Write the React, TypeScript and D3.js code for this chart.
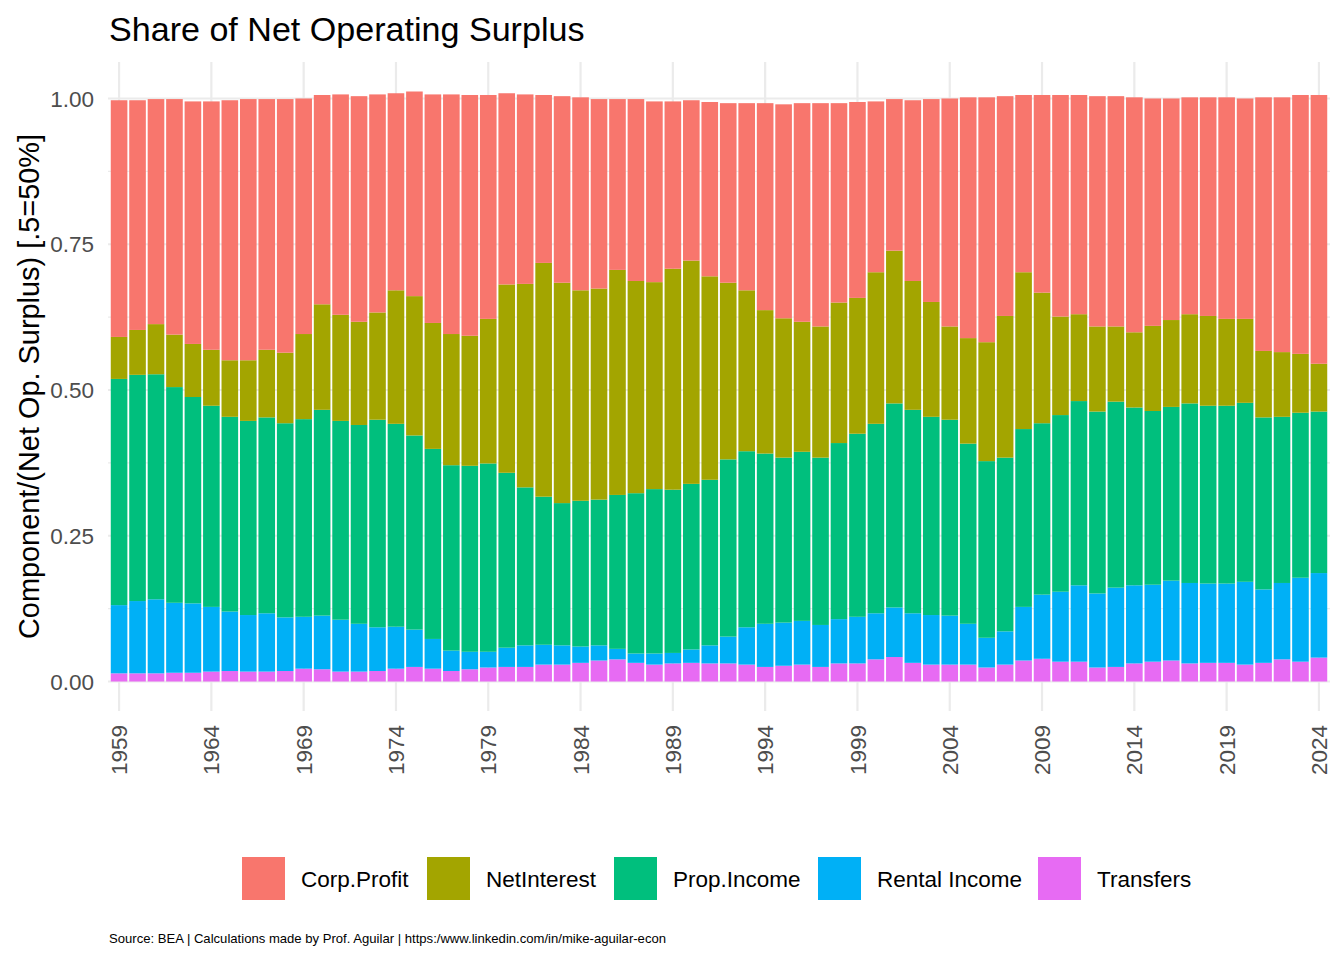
import React, { useEffect, useRef } from 'react';
import * as d3 from 'd3';

const years: number[] = d3.range(1959, 2025);

const corpProfit = [
  0.406, 0.394, 0.386, 0.404, 0.416, 0.426, 0.446, 0.448, 0.430, 0.435,
  0.404, 0.359, 0.378, 0.387, 0.374, 0.338, 0.351, 0.392, 0.411, 0.413,
  0.384, 0.328, 0.325, 0.288, 0.320, 0.331, 0.325, 0.293, 0.312, 0.310,
  0.287, 0.275, 0.299, 0.308, 0.321, 0.355, 0.367, 0.375, 0.383, 0.342,
  0.336, 0.293, 0.260, 0.310, 0.348, 0.391, 0.413, 0.420, 0.377, 0.304,
  0.339, 0.380, 0.376, 0.395, 0.395, 0.403, 0.390, 0.380, 0.372, 0.375,
  0.380, 0.378, 0.435, 0.437, 0.444, 0.461,
];

const netInterest = [
  0.072, 0.077, 0.086, 0.090, 0.091, 0.096, 0.097, 0.104, 0.116, 0.121,
  0.146, 0.181, 0.182, 0.177, 0.184, 0.229, 0.239, 0.216, 0.225, 0.223,
  0.248, 0.323, 0.349, 0.401, 0.378, 0.361, 0.362, 0.386, 0.364, 0.355,
  0.379, 0.383, 0.349, 0.303, 0.276, 0.246, 0.239, 0.223, 0.225, 0.241,
  0.233, 0.260, 0.262, 0.221, 0.197, 0.160, 0.181, 0.204, 0.243, 0.269,
  0.224, 0.169, 0.149, 0.146, 0.129, 0.129, 0.146, 0.149, 0.153, 0.154,
  0.149, 0.144, 0.114, 0.111, 0.101, 0.082,
];

const propIncome = [
  0.388, 0.388, 0.386, 0.370, 0.354, 0.345, 0.334, 0.333, 0.336, 0.333,
  0.339, 0.353, 0.341, 0.341, 0.356, 0.348, 0.333, 0.326, 0.318, 0.319,
  0.323, 0.300, 0.271, 0.254, 0.244, 0.250, 0.250, 0.264, 0.275, 0.282,
  0.280, 0.284, 0.284, 0.304, 0.302, 0.292, 0.283, 0.290, 0.287, 0.302,
  0.314, 0.325, 0.350, 0.349, 0.340, 0.336, 0.309, 0.303, 0.298, 0.305,
  0.294, 0.303, 0.316, 0.312, 0.319, 0.305, 0.298, 0.298, 0.308, 0.305,
  0.305, 0.307, 0.295, 0.285, 0.283, 0.277,
];

const rentalIncome = [
  0.117, 0.124, 0.127, 0.120, 0.119, 0.111, 0.102, 0.097, 0.100, 0.092,
  0.089, 0.092, 0.089, 0.082, 0.075, 0.072, 0.064, 0.051, 0.035, 0.030,
  0.027, 0.033, 0.037, 0.034, 0.033, 0.028, 0.026, 0.018, 0.016, 0.019,
  0.018, 0.023, 0.031, 0.046, 0.064, 0.074, 0.074, 0.075, 0.072, 0.076,
  0.080, 0.079, 0.085, 0.085, 0.085, 0.084, 0.070, 0.051, 0.057, 0.092,
  0.110, 0.120, 0.131, 0.127, 0.136, 0.134, 0.132, 0.137, 0.138, 0.136,
  0.136, 0.142, 0.126, 0.131, 0.144, 0.145,
];

const transfers = [
  0.014, 0.014, 0.014, 0.015, 0.015, 0.017, 0.018, 0.017, 0.017, 0.018,
  0.022, 0.021, 0.017, 0.017, 0.018, 0.022, 0.025, 0.022, 0.018, 0.021,
  0.024, 0.025, 0.025, 0.029, 0.029, 0.032, 0.036, 0.038, 0.032, 0.029,
  0.031, 0.032, 0.031, 0.031, 0.029, 0.025, 0.027, 0.029, 0.025, 0.031,
  0.031, 0.038, 0.042, 0.032, 0.029, 0.029, 0.029, 0.024, 0.029, 0.036,
  0.039, 0.034, 0.034, 0.024, 0.025, 0.031, 0.034, 0.036, 0.031, 0.032,
  0.032, 0.029, 0.032, 0.038, 0.034, 0.041,
];

// legend order (top of stack first)
const seriesNames = ['Corp.Profit', 'NetInterest', 'Prop.Income', 'Rental Income', 'Transfers'];
const seriesColors = ['#F8766D', '#A3A500', '#00BF7D', '#00B0F6', '#E76BF3'];
const yTicks = [0, 0.25, 0.5, 0.75, 1];
const yMinorTicks = [0.125, 0.375, 0.625, 0.875];
const xTicks = [1959, 1964, 1969, 1974, 1979, 1984, 1989, 1994, 1999, 2004, 2009, 2014, 2019, 2024];

const titleText = 'Share of Net Operating Surplus';
const yAxisTitle = 'Component/(Net Op. Surplus) [.5=50%]';
const captionText = 'Source: BEA | Calculations made by Prof. Aguilar | https:/www.linkedin.com/in/mike-aguilar-econ';

const FONT = '"Liberation Sans", Arial, sans-serif';

type Row = { year: number } & Record<string, number>;

const App: React.FC = () => {
  const svgRef = useRef<SVGSVGElement | null>(null);
  const width = 1344;
  const height = 960;

  useEffect(() => {
    if (!svgRef.current) {
      return;
    }
    const svg = d3.select(svgRef.current);
    svg.selectAll('*').remove();

    const seriesValues = [corpProfit, netInterest, propIncome, rentalIncome, transfers];
    const rows: Row[] = years.map((year, i) => {
      const row = { year } as Row;
      seriesNames.forEach((name, s) => {
        row[name] = seriesValues[s][i];
      });
      return row;
    });

    // stack bottom-up: Transfers first, Corp.Profit on top
    const stackKeys = [...seriesNames].reverse();
    const stacked = d3.stack<Row>().keys(stackKeys)(rows);
    const colorOf = d3.scaleOrdinal<string, string>().domain(seriesNames).range(seriesColors);

    const panel = { left: 108, right: 1330, top: 62, bottom: 711 };

    const xScale = d3
      .scaleLinear()
      .domain([1959 - 0.6, 2024 + 0.6])
      .range([panel.left, panel.right]);
    const step = xScale(1960) - xScale(1959);
    const barWidth = step * 0.9;

    const maxTotal = d3.max(stacked[stacked.length - 1], d => d[1]) ?? 1;
    const pad = maxTotal * 0.05;
    const yScale = d3
      .scaleLinear()
      .domain([-pad, maxTotal + pad])
      .range([panel.bottom, panel.top]);

    const grid = svg.append('g');
    grid
      .selectAll('.minor')
      .data(yMinorTicks)
      .join('line')
      .attr('x1', panel.left)
      .attr('x2', panel.right)
      .attr('y1', d => yScale(d))
      .attr('y2', d => yScale(d))
      .attr('stroke', '#EBEBEB')
      .attr('stroke-width', 1.1);
    grid
      .selectAll('.major-y')
      .data(yTicks)
      .join('line')
      .attr('x1', panel.left)
      .attr('x2', panel.right)
      .attr('y1', d => yScale(d))
      .attr('y2', d => yScale(d))
      .attr('stroke', '#EBEBEB')
      .attr('stroke-width', 2.2);
    grid
      .selectAll('.major-x')
      .data(xTicks)
      .join('line')
      .attr('x1', d => xScale(d))
      .attr('x2', d => xScale(d))
      .attr('y1', panel.top)
      .attr('y2', panel.bottom)
      .attr('stroke', '#EBEBEB')
      .attr('stroke-width', 2.2);

    svg
      .append('g')
      .selectAll('g')
      .data(stacked)
      .join('g')
      .attr('fill', d => colorOf(d.key))
      .selectAll('rect')
      .data(d => d)
      .join('rect')
      .attr('x', d => xScale(d.data.year) - barWidth / 2)
      .attr('width', barWidth)
      .attr('y', d => yScale(d[1]))
      .attr('height', d => yScale(d[0]) - yScale(d[1]));

    svg
      .append('g')
      .selectAll('text')
      .data(yTicks)
      .join('text')
      .attr('x', 94)
      .attr('y', d => yScale(d))
      .attr('dy', '0.36em')
      .attr('text-anchor', 'end')
      .attr('fill', '#4D4D4D')
      .attr('font-size', 22.5)
      .attr('font-family', FONT)
      .text(d => d3.format('.2f')(d));

    svg
      .append('g')
      .selectAll('text')
      .data(xTicks)
      .join('text')
      .attr('transform', d => `translate(${xScale(d)},${725}) rotate(-90)`)
      .attr('dy', '0.36em')
      .attr('text-anchor', 'end')
      .attr('fill', '#4D4D4D')
      .attr('font-size', 22.5)
      .attr('font-family', FONT)
      .text(d => String(d));

    svg
      .append('text')
      .attr('transform', `translate(29,${(panel.top + panel.bottom) / 2}) rotate(-90)`)
      .attr('dy', '0.36em')
      .attr('text-anchor', 'middle')
      .attr('fill', '#000000')
      .attr('font-size', 28.9)
      .attr('font-family', FONT)
      .text(yAxisTitle);

    svg
      .append('text')
      .attr('x', 109)
      .attr('y', 41)
      .attr('fill', '#000000')
      .attr('font-size', 34.1)
      .attr('font-family', FONT)
      .text(titleText);

    const legendX = [242, 427, 614, 818, 1038];
    const legend = svg
      .append('g')
      .selectAll('g')
      .data(seriesNames)
      .join('g')
      .attr('transform', (_, i) => `translate(${legendX[i]},857)`);
    legend
      .append('rect')
      .attr('width', 43)
      .attr('height', 43)
      .attr('fill', d => colorOf(d));
    legend
      .append('text')
      .attr('x', 59)
      .attr('y', 21.5)
      .attr('dy', '0.36em')
      .attr('fill', '#000000')
      .attr('font-size', 22.5)
      .attr('font-family', FONT)
      .text(d => d);

    svg
      .append('text')
      .attr('x', 109)
      .attr('y', 943)
      .attr('fill', '#000000')
      .attr('font-size', 13.1)
      .attr('font-family', FONT)
      .text(captionText);
  }, []);

  return (
    <svg
      ref={svgRef}
      width={width}
      height={height}
      viewBox={`0 0 ${width} ${height}`}
      style={{ position: 'absolute', left: 0, top: 0, background: '#ffffff', display: 'block' }}
    />
  );
};

export default App;
